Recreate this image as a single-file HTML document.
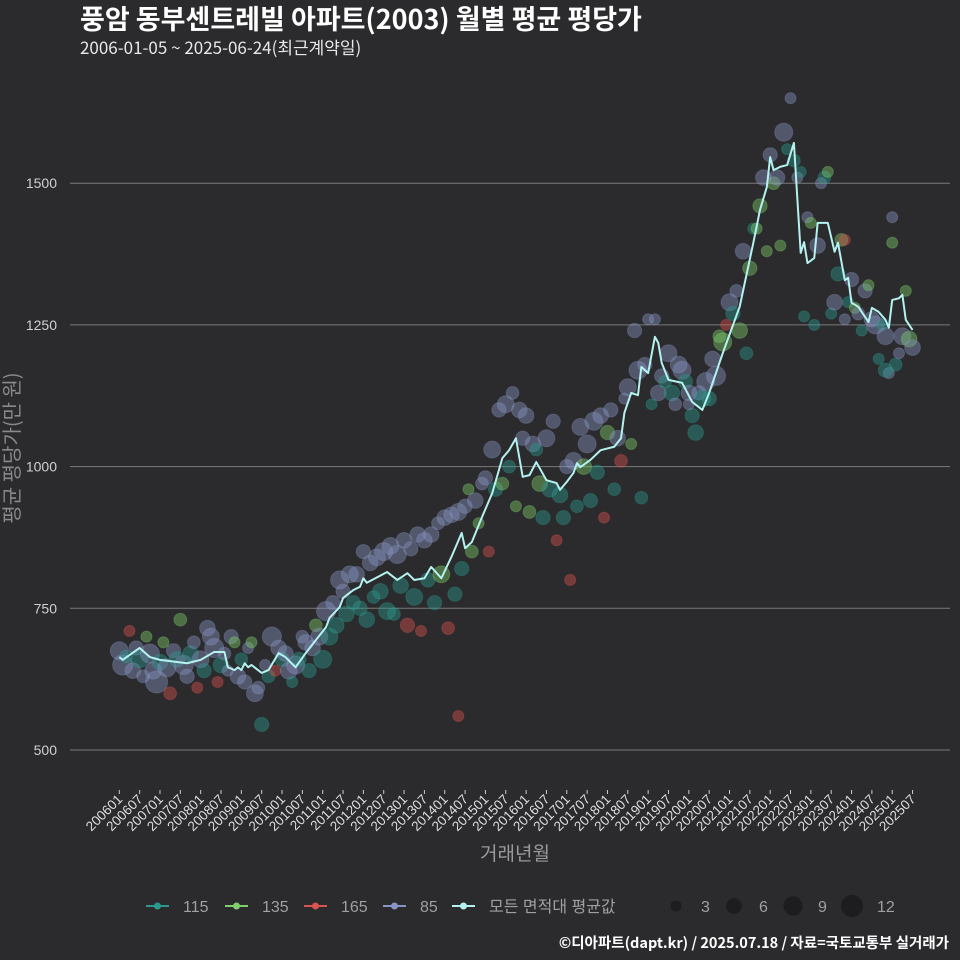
<!DOCTYPE html>
<html><head><meta charset="utf-8">
<style>
body{margin:0;background:#2b2a2c;}
svg{display:block;font-family:"Liberation Sans","Noto Sans CJK KR",sans-serif;}
</style></head>
<body>
<svg id="chart" width="960" height="960" viewBox="0 0 960 960">
<rect width="960" height="960" fill="#2b2a2c"/>
<text x="80" y="29" fill="#ffffff" font-size="27" font-weight="bold" font-family="'Noto Sans CJK KR',sans-serif">풍암 동부센트레빌 아파트(2003) 월별 평균 평당가</text>
<text x="80" y="54" fill="#e8e8e8" font-size="17" font-family="'Noto Sans CJK KR',sans-serif">2006-01-05 ~ 2025-06-24(최근계약일)</text>
<g id="grid"></g>
<g id="points"></g>
<g id="line"></g>
<g id="xaxis"></g>
<text x="515" y="860" fill="#9a9a9a" font-size="19" text-anchor="middle" font-family="'Noto Sans CJK KR',sans-serif">거래년월</text>
<text transform="translate(19,448) rotate(-90)" fill="#8a8a8a" font-size="20" text-anchor="middle" font-family="'Noto Sans CJK KR',sans-serif">평균 평당가(만 원)</text>
<g id="legend"></g>
<text x="949" y="948" fill="#ffffff" font-size="14.5" font-weight="bold" text-anchor="end" font-family="'Noto Sans CJK KR',sans-serif">©디아파트(dapt.kr) / 2025.07.18 / 자료=국토교통부 실거래가</text>
</svg>
<script>
const yTicks=[500,750,1000,1250,1500];
const lineMonths=[0,1,6,9,12,20,24,28,31,32,34,35,36,37,38,39,42,44,47,49,52,55,58,61,62,65,66,67,69,71,72,73,79,82,85,87,90,92,95,98,101,102,104,107,110,113,115,117,119,121,123,126,129,130,132,134,135,136,139,142,146,148,149,151,153,154,156,158,159,160,162,165,166,169,172,174,178,183,187,189,191,192,193,195,197,199,201,202,203,205,206,209,211,212,214,215,216,218,221,222,224,226,227,228,230,231,232,234];
const lineValues=[664,659,680,664,659,653,659,673,673,646,641,646,641,653,646,650,636,641,671,664,646,671,694,717,733,752,768,773,782,788,803,795,814,800,812,800,803,823,803,841,883,856,867,911,953,1015,1029,1050,982,985,1008,976,971,959,973,989,1006,999,1012,1029,1035,1050,1095,1130,1126,1176,1165,1229,1218,1183,1153,1149,1148,1114,1100,1130,1200,1282,1394,1453,1493,1546,1523,1529,1532,1571,1377,1396,1359,1368,1430,1430,1379,1395,1329,1333,1289,1282,1255,1280,1273,1259,1245,1294,1297,1303,1259,1241];
const ptMonths=[0,1,2,3,4,5,6,7,8,9, 10,11,12,13,14,15,16,17,18,19, 20,21,22,23,24,25,26,27,28,29, 30,31,32,33,34,35,36,37,38,39, 40,41,42,43,44,45,46,47,48,49, 50,51,52,53,54,55,56,57,58,59,
60,61,62,63,64,65,66,67,68,69, 70,71,72,73,74,75,76,77,78,79, 80,81,82,83,84,85,86,87,88,89, 90,91,92,93,94,95,96,97,98,99, 100,101,102,103,104,105,106,107,108,109, 110,111,112,113,114,115,116,117,118,119,
120,121,122,123,124,125,126,127,128,129, 130,131,132,133,134,135,136,137,138,139, 140,141,142,143,144,145,146,147,148,149, 150,151,152,153,154,155,156,157,158,159, 160,161,162,163,164,165,166,167,168,169, 170,171,172,173,174,175,176,177,178,179,
180,181,182,183,184,185,186,187,188,189, 190,191,192,193,194,195,196,197,198,199, 200,201,202,203,204,205,206,207,208,209, 210,211,212,213,214,215,216,217,218,219, 220,221,222,223,224,225,226,227,228,229, 230,231,232,233,234,228,226,214,168,100];
const ptValues=[675,650,665,710,640,680,660,630,700,670, 640,620,655,690,645,600,675,660,730,650, 630,670,690,610,660,640,715,700,680,620, 650,670,640,700,690,630,660,620,680,690, 600,610,545,650,630,700,640,680,660,670, 640,620,650,660,700,690,640,680,720,700,
660,745,700,760,720,800,780,740,810,760, 810,750,850,730,830,770,840,780,850,745, 860,740,845,790,870,720,855,770,880,710, 870,800,880,760,900,810,910,715,915,775, 920,820,930,960,850,940,900,970,980,850, 1030,960,1100,970,1110,1000,1130,930,1100,1050,
1090,920,1040,1030,970,910,1050,960,1080,870, 950,910,1000,800,1010,930,1070,1000,1040,940, 1080,990,1090,910,1060,1100,960,1050,1010,1120, 1140,1040,1240,1170,945,1180,1260,1110,1260,1130, 1160,1150,1200,1130,1110,1180,1170,1150,1130,1090, 1060,1130,1120,1150,1120,1190,1160,1230,1220,1250,
1290,1270,1310,1240,1380,1200,1350,1420,1420,1460, 1510,1380,1550,1500,1510,1390,1590,1560,1650,1540, 1510,1520,1265,1440,1430,1250,1390,1500,1510,1520, 1270,1290,1340,1400,1400,1290,1330,1280,1270,1240, 1310,1320,1260,1250,1190,1250,1230,1165,1440,1180, 1200,1230,1310,1225,1210,1395,1170,1260,1110,560];
const ptSizes=[8,10,4,3,6,5,7,4,3,9, 7,12,6,3,8,4,5,6,4,9, 5,6,4,3,7,5,6,7,9,3, 6,4,3,5,3,6,4,5,3,3, 7,4,5,3,4,9,3,6,5,6, 7,3,8,5,4,6,5,6,4,7,
8,9,7,5,6,8,5,6,7,5, 6,5,5,6,6,4,7,6,8,7, 7,4,8,6,6,5,5,7,6,3, 6,5,6,5,4,7,6,4,6,5, 7,5,5,3,4,6,3,4,5,3, 7,5,5,4,7,4,4,3,6,5,
6,4,6,4,6,5,7,6,5,3, 6,5,5,3,7,4,7,6,8,5, 8,5,6,3,5,5,4,6,4,3, 7,3,5,8,4,5,3,3,3,6, 5,4,7,6,4,7,8,5,6,5, 6,5,7,8,5,6,9,4,8,3,
7,5,4,6,6,4,5,3,3,5, 6,3,5,4,6,3,8,3,3,4, 3,3,3,3,3,3,6,3,4,3, 3,6,5,4,3,3,5,3,4,3, 5,3,6,8,3,3,7,3,3,4, 3,7,3,6,6,3,5,3,3,3];
const ptTypes=[3,3,0,2,3,3,0,3,1,3, 3,3,0,1,3,2,3,0,1,3, 3,0,3,2,3,0,3,3,3,2, 0,3,3,3,1,3,0,3,3,1, 3,3,0,3,0,3,2,3,0,3, 3,0,3,0,3,3,0,3,1,3,
0,3,0,3,0,3,3,0,3,0, 3,0,3,0,3,0,3,0,3,0, 3,0,3,0,3,2,3,0,3,2, 3,0,3,0,3,1,3,2,3,0, 3,0,3,1,1,3,1,3,3,2, 3,0,3,1,3,0,3,1,3,3,
3,1,3,0,1,0,3,0,3,2, 0,0,3,2,3,0,3,1,3,0, 3,0,3,2,1,3,0,3,2,3, 3,1,3,3,0,3,3,0,3,3, 3,0,3,0,3,3,3,0,3,0, 0,3,0,3,0,3,3,1,1,2,
3,0,3,1,3,0,1,0,1,1, 3,1,3,1,3,1,3,0,3,0, 3,0,0,3,1,0,3,3,0,1, 0,3,0,1,2,0,3,1,3,0, 3,1,3,3,0,0,3,3,3,0, 3,3,1,1,3,1,0,3,3,2];
const seriesNames=['115','135','165','85'];
const seriesColors=['#2a9a8e','#7fd06c','#d9534f','#8796c4'];
const sizeLegend=[3,6,9,12];

const NS='http://www.w3.org/2000/svg';
function mk(tag,attrs,parent){const e=document.createElementNS(NS,tag);for(const k in attrs)e.setAttribute(k,attrs[k]);parent.appendChild(e);return e;}
const xS=m=>119.3+m*3.39;
const yS=v=>750-(v-500)*141.7/250;
const rS=s=>Math.sqrt(s)*3.2;

const grid=document.getElementById('grid');
yTicks.forEach(t=>{
  const l=mk('line',{x1:70,x2:950,y1:yS(t),y2:yS(t),stroke:'#7a7a7a','stroke-width':1},grid);
  
  
  const tx=mk('text',{x:57,y:yS(t)+5,fill:'#d0d0d0','font-size':14,'text-anchor':'end'},grid);
  tx.textContent=t;
  
  
});

const xa=document.getElementById('xaxis');
for(let m=0;m<=234;m+=6){
  const y=2006+Math.floor(m/12), mo=(m%12)+1;
  const lab=''+y+(mo<10?'0':'')+mo;
  const x=xS(m);
  const tk=mk('line',{x1:x,x2:x,y1:790,y2:794,stroke:'#cccccc'},xa);
  
  
  const t=mk('text',{x:x+4,y:800,fill:'#dddddd','font-size':13.5,'text-anchor':'end',transform:`rotate(-45 ${x+4} 800)`},xa);
  t.textContent=lab;
  
  
}

const pg=document.getElementById('points');
ptMonths.forEach((m,i)=>{
  const c=mk('circle',{cx:xS(m),cy:yS(ptValues[i]),r:rS(ptSizes[i]),fill:seriesColors[ptTypes[i]],'fill-opacity':0.42,stroke:seriesColors[ptTypes[i]],'stroke-opacity':0.3},pg);
  
  
});

const lg=document.getElementById('line');
const p=mk('polyline',{points:lineMonths.map((m,i)=>xS(m)+','+yS(lineValues[i])).join(' '),fill:'none',stroke:'#b4f2f0','stroke-width':2,'stroke-linejoin':'round'},lg);



const leg=document.getElementById('legend');
const legItems=[[146,'115','#2a9a8e'],[225,'135','#7fd06c'],[304,'165','#d9534f'],[383,'85','#8796c4'],[452,'모든 면적대 평균값','#b4f2f0']];
legItems.forEach(([x,n,c])=>{
  const g=mk('g',{},leg);
  
  
  mk('line',{x1:x,x2:x+23,y1:906,y2:906,stroke:c,'stroke-width':2},g);
  mk('circle',{cx:x+11.5,cy:906,r:3.5,fill:c},g);
  const t=mk('text',{x:x+37,y:912,fill:'#a0a0a0','font-size':16,'font-family':"'Liberation Sans','Noto Sans CJK KR',sans-serif"},g);
  t.textContent=n;
});
const sx=[676,734,793,852];
sizeLegend.forEach((s,i)=>{
  const g=mk('g',{},leg);
  
  
  mk('circle',{cx:sx[i],cy:906,r:rS(s),fill:'#1d1d1f'},g);
  const t=mk('text',{x:sx[i]+25,y:912,fill:'#a0a0a0','font-size':16},g);
  t.textContent=s;
});
</script>
</body></html>
